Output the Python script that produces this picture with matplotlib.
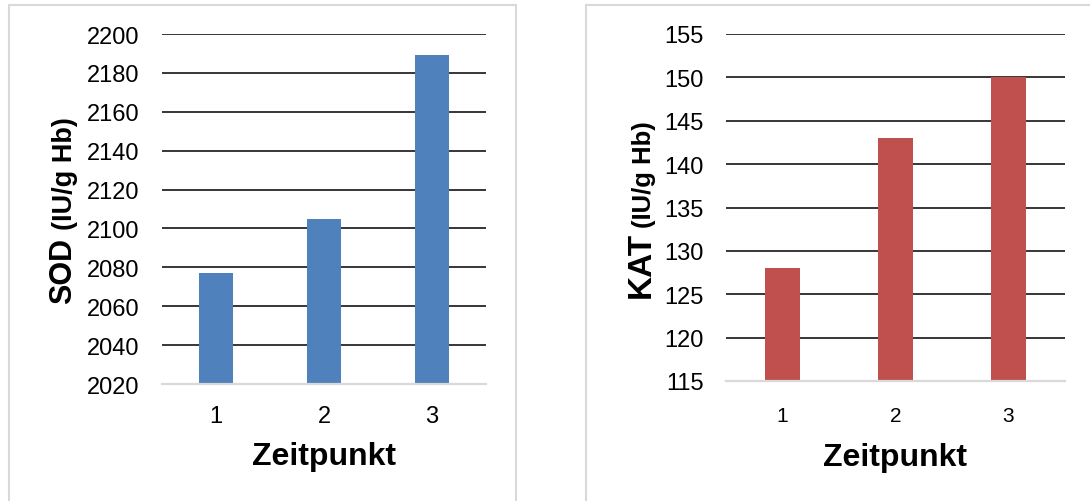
import matplotlib.pyplot as plt
from matplotlib.patches import Rectangle

plt.rcParams['font.family'] = ['Liberation Sans', 'DejaVu Sans']

zeitpunkt = [1, 2, 3]
sod = [2077, 2105, 2189]
kat = [128, 143, 150]
sod_ticks = list(range(2020, 2201, 20))
kat_ticks = list(range(115, 156, 5))

W, H = 1090, 502
fig = plt.figure(figsize=(W / 100, H / 100), dpi=100)


def px(x0, y0, x1, y1):
    # pixel box (from top-left) -> figure fraction [l, b, w, h]
    return [x0 / W, 1 - y1 / H, (x1 - x0) / W, (y1 - y0) / H]


# grey frames round the two chart objects
for x0, x1 in [(9, 516), (586, 1100)]:
    l, b, w, h = px(x0, 6, x1, 510)
    fig.patches.append(Rectangle((l, b), w, h, transform=fig.transFigure,
                                 fill=False, edgecolor='#d9d9d9', linewidth=1.5))


def panel(box, values, ticks, color, name, name_size, unit_size, gap,
          xtick_size, xtick_pad, xlab_pad, ylab_x, ylab_y):
    ax = fig.add_axes(px(*box))
    ax.bar(zeitpunkt, values, width=0.31, color=color, zorder=3)
    ax.set_xlim(0.5, 3.5)
    ax.set_ylim(ticks[0], ticks[-1])
    ax.set_yticks(ticks)
    ax.set_xticks(zeitpunkt)
    ax.grid(axis='y', color='black', linewidth=1.1, zorder=1)
    for s in ['top', 'right', 'left']:
        ax.spines[s].set_visible(False)
    ax.spines['bottom'].set_color('#d9d9d9')
    ax.spines['bottom'].set_linewidth(1.6)
    ax.spines['bottom'].set_zorder(4)
    ax.tick_params(length=0)
    ax.tick_params(axis='y', labelsize=17, pad=16)
    ax.tick_params(axis='x', labelsize=xtick_size, pad=xtick_pad)
    ax.set_xlabel('Zeitpunkt', fontsize=23, fontweight='bold', labelpad=xlab_pad)
    t = fig.text(ylab_x / W, 1 - ylab_y / H, name, rotation=90, ha='center',
                 va='bottom', fontsize=name_size, fontweight='bold')
    ax.annotate('(IU/g Hb)', xy=(1, 1), xycoords=t, xytext=(0, gap),
                textcoords='offset points', rotation=90, ha='right',
                va='bottom', fontsize=unit_size, fontweight='bold')
    return ax


panel((162, 35, 486, 385), sod, sod_ticks, '#4f81bd', 'SOD', 22, 19.5, 6,
      17, 15, 10, 63, 304)
panel((726, 35, 1065, 382), kat, kat_ticks, '#c0504d', 'KAT', 24, 18.5, 3,
      15, 18, 12, 641, 298)

fig.savefig('out.png', dpi=100)
